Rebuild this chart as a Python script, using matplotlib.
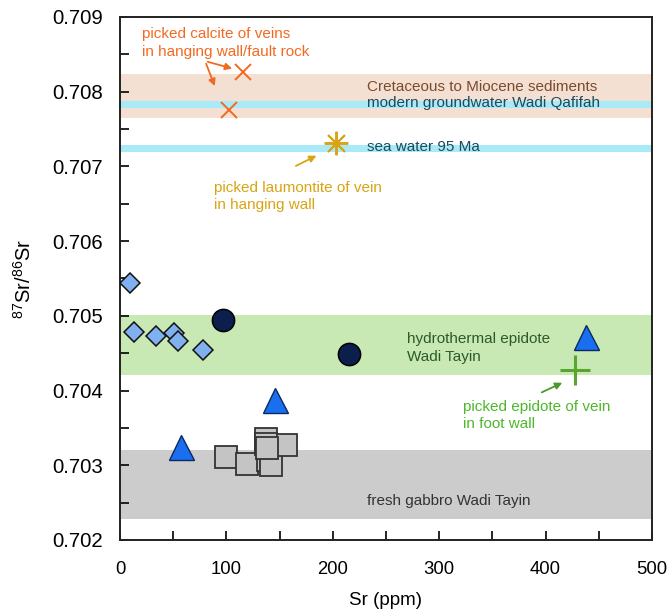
import matplotlib
matplotlib.use('Agg')
from matplotlib import pyplot as plt
from matplotlib.ticker import MultipleLocator, FormatStrFormatter

plt.rcParams['font.family'] = ['Liberation Sans', 'DejaVu Sans']
plt.rcParams['mathtext.default'] = 'regular'

# data
diamond_sr = [9, 13, 34, 51, 55, 78]
diamond_ratio = [0.70544, 0.70478, 0.70473, 0.70477, 0.70466, 0.70454]
circle_sr = [97, 215]
circle_ratio = [0.70495, 0.70449]
triangle_sr = [438, 146, 57]
triangle_ratio = [0.70472, 0.70387, 0.70325]
square_sr = [100, 119, 137, 139, 142, 156, 137, 138]
square_ratio = [0.70311, 0.70302, 0.70335, 0.70307, 0.70300, 0.70327, 0.70329, 0.70323]
calcite_sr = [116, 102]
calcite_ratio = [0.70826, 0.70775]
laumontite_sr = [203]
laumontite_ratio = [0.70732]
epidote_sr = [428]
epidote_ratio = [0.70427]

# reference ranges
sediments_band = (0.70765, 0.70824)
groundwater = 0.70783
seawater = 0.70724
epidote_band = (0.70421, 0.70501)
gabbro_band = (0.70228, 0.70321)

fig = plt.figure(figsize=(6.71, 6.13), dpi=100)
ax = fig.add_axes([0.1788, 0.1191, 0.7929, 0.8532])

ax.axhspan(*sediments_band, color='#f3e0d2', lw=0, zorder=0)
ax.axhline(groundwater, color='#a8eaf8', lw=5, zorder=1)
ax.axhline(seawater, color='#a8eaf8', lw=5, zorder=1)
ax.axhspan(*epidote_band, color='#c8e8b4', lw=0, zorder=0)
ax.axhspan(*gabbro_band, color='#cccccc', lw=0, zorder=0)

ax.plot(square_sr, square_ratio, 's', ms=16, mfc='#c4c4c4', mec='#333333', mew=1.3, ls='none', zorder=3)
ax.plot(diamond_sr, diamond_ratio, 'D', ms=10, mfc='#80b0f0', mec='#111111', mew=1.1, ls='none', zorder=3)
ax.plot(circle_sr, circle_ratio, 'o', ms=16, mfc='#0c1f4c', mec='#000000', mew=1.1, ls='none', zorder=3)
ax.plot(triangle_sr, triangle_ratio, '^', ms=18, mfc='#1a6ef0', mec='#0a2a60', mew=1.0, ls='none', zorder=3)
ax.plot(calcite_sr, calcite_ratio, 'x', ms=12, mec='#f26a22', mew=1.4, ls='none', zorder=3)
ax.plot(laumontite_sr, laumontite_ratio, marker=(8, 2, 0), ms=17, mec='#d8a414', mew=1.4, ls='none', zorder=3)
ax.plot(epidote_sr, epidote_ratio, '+', ms=21, mec='#5aa530', mew=2.2, ls='none', zorder=3)

fs = 11
ax.text(232, 0.70806, 'Cretaceous to Miocene sediments', color='#7b4a2c', fontsize=fs, va='center')
ax.text(232, 0.70785, 'modern groundwater Wadi Qafifah', color='#1d4a5c', fontsize=fs, va='center')
ax.text(232, 0.70726, 'sea water 95 Ma', color='#1d4a5c', fontsize=fs, va='center')
ax.text(270, 0.70457, 'hydrothermal epidote\nWadi Tayin', color='#2e5a2a', fontsize=fs,
        va='center', linespacing=1.3)
ax.text(232, 0.70252, 'fresh gabbro Wadi Tayin', color='#333333', fontsize=fs, va='center')

ax.text(21, 0.70865, 'picked calcite of veins\nin hanging wall/fault rock', color='#f26a22',
        fontsize=fs, va='center', linespacing=1.3)
ax.annotate('', xy=(108, 0.70830), xytext=(80, 0.70841),
            arrowprops=dict(arrowstyle='-|>', color='#f26a22', lw=1.3, mutation_scale=10))
ax.annotate('', xy=(90, 0.70804), xytext=(80, 0.70841),
            arrowprops=dict(arrowstyle='-|>', color='#f26a22', lw=1.3, mutation_scale=10))

ax.text(88, 0.70660, 'picked laumontite of vein\nin hanging wall', color='#d8a414',
        fontsize=fs, va='center', linespacing=1.3)
ax.annotate('', xy=(187, 0.70716), xytext=(163, 0.70699),
            arrowprops=dict(arrowstyle='-|>', color='#d8a414', lw=1.3, mutation_scale=10))

ax.text(322, 0.70367, 'picked epidote of vein\nin foot wall', color='#4cb82c',
        fontsize=fs, va='center', linespacing=1.3)
ax.annotate('', xy=(418, 0.70412), xytext=(394, 0.70396),
            arrowprops=dict(arrowstyle='-|>', color='#4a9a2a', lw=1.3, mutation_scale=10))

ax.set_xlim(0, 500)
ax.set_ylim(0.702, 0.709)
ax.xaxis.set_major_locator(MultipleLocator(100))
ax.xaxis.set_minor_locator(MultipleLocator(50))
ax.yaxis.set_major_locator(MultipleLocator(0.001))
ax.yaxis.set_minor_locator(MultipleLocator(0.0005))
ax.yaxis.set_major_formatter(FormatStrFormatter('%.3f'))
ax.tick_params(which='both', direction='in', length=6.5, width=1.2, top=False, right=False)
ax.tick_params(axis='x', which='major', labelsize=13.3, pad=15)
ax.tick_params(axis='y', which='major', labelsize=14.7, pad=12)
for side in ax.spines.values():
    side.set_linewidth(1.4)
    side.set_color('#222222')

ax.set_xlabel('Sr (ppm)', fontsize=13.5, labelpad=10)
ax.set_ylabel('$^{87}$Sr/$^{86}$Sr', fontsize=14.5, labelpad=13)

fig.savefig('out.png', dpi=100)
